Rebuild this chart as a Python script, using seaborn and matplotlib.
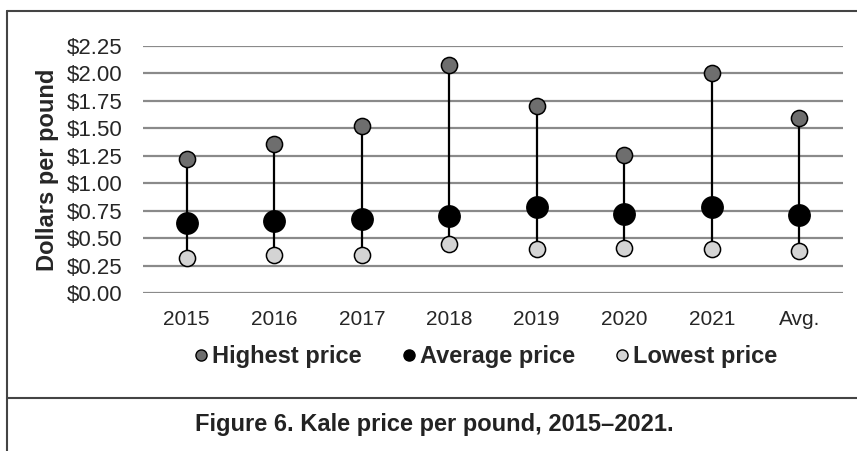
import matplotlib
matplotlib.use("Agg")
import matplotlib.pyplot as plt
from matplotlib.lines import Line2D
import seaborn as sns
import pandas as pd

categories = ["2015", "2016", "2017", "2018", "2019", "2020", "2021", "Avg."]
highest = [1.22, 1.36, 1.52, 2.08, 1.70, 1.26, 2.00, 1.59]
average = [0.64, 0.66, 0.67, 0.70, 0.78, 0.72, 0.78, 0.71]
lowest = [0.32, 0.35, 0.35, 0.45, 0.40, 0.41, 0.40, 0.38]
yticks = [0, 0.25, 0.5, 0.75, 1.0, 1.25, 1.5, 1.75, 2.0, 2.25]

sns.set_style("white")
plt.rcParams['font.family'] = ['Liberation Sans', 'DejaVu Sans']

fig = plt.figure(figsize=(8.57, 4.51), dpi=100)
ax = fig.add_axes([143/857, 1-293/451, 700/857, 247/451])

df = pd.DataFrame({
    "cat": categories * 3,
    "val": highest + average + lowest,
    "series": ["Highest price"]*8 + ["Average price"]*8 + ["Lowest price"]*8,
})
xpos = {c: i for i, c in enumerate(categories)}
df["x"] = df["cat"].map(xpos)

colors = {"Highest price": "#6e6e6e", "Average price": "#000000", "Lowest price": "#d4d4d4"}
sizes = {"Highest price": 135, "Average price": 235, "Lowest price": 135}

# gridlines
for t in yticks:
    ax.axhline(t, color="#8a8a8a", lw=1.6, zorder=0)

# connecting lines
ax.vlines(range(len(categories)), lowest, highest, color="black", lw=1.6, zorder=1)

for s in ["Highest price", "Lowest price", "Average price"]:
    sub = df[df["series"] == s]
    sns.scatterplot(data=sub, x="x", y="val", ax=ax, color=colors[s], s=sizes[s],
                    edgecolor="black", linewidth=1.1, zorder=3, clip_on=False, legend=False)

ax.set_xlim(-0.5, len(categories) - 0.5)
ax.set_ylim(0, 2.25)
ax.set_yticks(yticks)
ax.set_yticklabels([f"${t:.2f}" for t in yticks], fontsize=16)
ax.set_xticks(range(len(categories)))
ax.set_xticklabels(categories, fontsize=15)
ax.tick_params(axis="y", length=0, pad=15)
ax.tick_params(axis="x", length=0, pad=12)
for sp in ax.spines.values():
    sp.set_visible(False)
ax.set_xlabel("")
ax.set_ylabel("Dollars per pound", fontsize=17, fontweight="bold", labelpad=5)

handles = [Line2D([0], [0], marker="o", linestyle="none", markersize=8,
                  markerfacecolor=colors[s], markeredgecolor="black", markeredgewidth=1)
           for s in ["Highest price", "Average price", "Lowest price"]]
leg = fig.legend(handles, ["Highest price", "Average price", "Lowest price"],
                 loc="center", bbox_to_anchor=(485/857, 1-357/451), ncol=3, frameon=False,
                 prop={"weight": "bold", "size": 17}, handletextpad=0.12, columnspacing=1.65,
                 handlelength=0.7)

fig.text(434/857, 1-425/451, "Figure 6. Kale price per pound, 2015\u20132021.",
         ha="center", va="center", fontsize=17, fontweight="bold", color="#222222")

# frame lines
lc = "#444444"
fig.add_artist(Line2D([7/857, 7/857], [0, 1-11/451], transform=fig.transFigure, color=lc, lw=1.5))
fig.add_artist(Line2D([7/857, 1], [1-11/451, 1-11/451], transform=fig.transFigure, color=lc, lw=1.5))
fig.add_artist(Line2D([7/857, 1], [1-398/451, 1-398/451], transform=fig.transFigure, color=lc, lw=1.5))

fig.savefig("out.png", dpi=100)
